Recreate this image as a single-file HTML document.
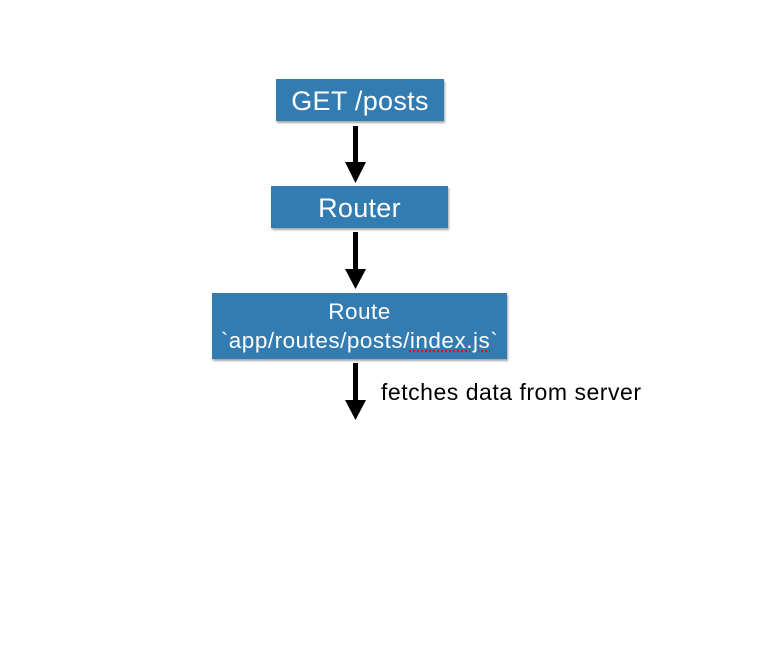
<!DOCTYPE html>
<html><head><style>
body{margin:0;width:784px;height:666px;background:#fff;position:relative;font-family:"Liberation Sans",sans-serif;overflow:hidden}
.b{position:absolute;background:#327cb2;color:#fff;text-align:center;box-shadow:1px 2px 2px rgba(0,0,0,.35)}
</style></head><body>
<div class="b" style="left:276px;top:79px;width:168px;height:42px;line-height:44px;font-size:27px;letter-spacing:0.3px">GET /posts</div>
<div class="b" style="left:271px;top:186px;width:177px;height:42px;line-height:44px;font-size:27px;letter-spacing:0.3px">Router</div>
<div class="b" style="left:212px;top:293px;width:295px;height:66px;font-size:22.5px;letter-spacing:0.5px;line-height:29px;padding-top:4px;box-sizing:border-box;white-space:nowrap">Route<br>`app/routes/posts/<span style="text-decoration:underline dotted red">index.js</span>`</div>
<svg width="784" height="666" style="position:absolute;left:0;top:0">
<g fill="#000">
<rect x="353" y="126" width="5" height="38"/><polygon points="345,162 366,162 355.5,183"/>
<rect x="353" y="232" width="5" height="39"/><polygon points="345,269 366,269 355.5,289"/>
<rect x="353" y="363" width="5" height="39"/><polygon points="345,400 366,400 355.5,420"/>
</g>
<text x="381" y="400" font-family="Liberation Sans" font-size="23" fill="#000" textLength="260" lengthAdjust="spacing">fetches data from server</text>
</svg>
</body></html>
